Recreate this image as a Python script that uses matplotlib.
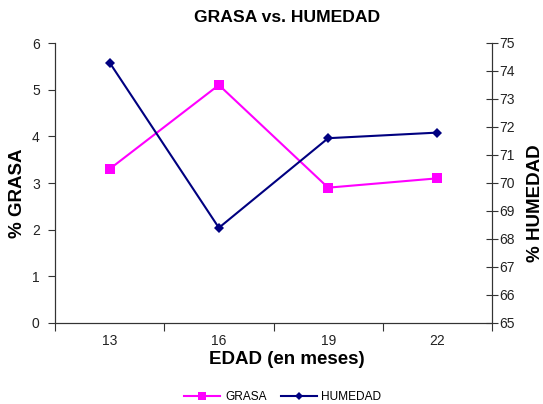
import matplotlib
matplotlib.use("Agg")
import matplotlib.pyplot as plt
import numpy as np

plt.rcParams['font.family'] = ['Liberation Sans', 'DejaVu Sans']

edad = ['13', '16', '19', '22']
grasa = [3.3, 5.1, 2.9, 3.1]
humedad = [74.3, 68.4, 71.6, 71.8]

W, H = 543, 404
fig = plt.figure(figsize=(W / 100, H / 100), dpi=100)
left, right, top, bottom = 55, 492, 43, 323
ax = fig.add_axes([left / W, 1 - bottom / H, (right - left) / W, (bottom - top) / H])
ax2 = ax.twinx()

x = np.arange(len(edad)) + 0.5
axis_col = '#333333'

l1, = ax.plot(x, grasa, color='#FF00FF', lw=1.5, marker='s', markersize=7,
              markeredgewidth=0, label='GRASA')
l2, = ax2.plot(x, humedad, color='#000080', lw=1.5, marker='D', markersize=5,
               markeredgewidth=0, label='HUMEDAD')

ax.set_xlim(0, len(edad))
ax.set_ylim(0, 6)
ax.set_yticks(range(0, 7))
ax2.set_ylim(65, 75)
ax2.set_yticks(range(65, 76))

# category boundaries carry the tick marks; labels sit at the centers
ax.set_xticks(np.arange(len(edad) + 1))
ax.set_xticklabels([])
ax.set_xticks(x, minor=True)
ax.set_xticklabels(edad, minor=True)
ax.tick_params(axis='x', which='major', direction='out', length=6, width=0.8, color=axis_col)
ax.tick_params(axis='x', which='minor', length=0, pad=8, labelsize=10, labelcolor='#222222')
ax.tick_params(axis='y', direction='out', length=5, width=0.8, color=axis_col,
               labelsize=10, labelcolor='#222222', pad=6)
ax2.tick_params(axis='y', direction='inout', length=8, width=0.8, color=axis_col,
                labelsize=10, labelcolor='#222222', pad=1)

for a in (ax, ax2):
    a.spines['top'].set_visible(False)
    for s in ('left', 'right', 'bottom'):
        a.spines[s].set_color(axis_col)
        a.spines[s].set_linewidth(0.8)

fig.text(287 / W, 1 - 18 / H, 'GRASA vs. HUMEDAD', ha='center', va='center',
         fontsize=12.6, fontweight='bold')
fig.text(287 / W, 1 - 360 / H, 'EDAD (en meses)', ha='center', va='center',
         fontsize=13.5, fontweight='bold')
fig.text(17 / W, 1 - 193 / H, '% GRASA', ha='center', va='center', rotation=90,
         fontsize=13.5, fontweight='bold')
fig.text(536 / W, 1 - 203 / H, '% HUMEDAD', ha='center', va='center', rotation=90,
         fontsize=13.5, fontweight='bold')

fig.legend(handles=[l1, l2], loc='center', bbox_to_anchor=(283 / W, 1 - 397 / H),
           ncol=2, frameon=False, fontsize=8.6, handlelength=3.0, columnspacing=1.2,
           handletextpad=0.4, markerscale=0.8)

fig.savefig('out.png', dpi=100)
